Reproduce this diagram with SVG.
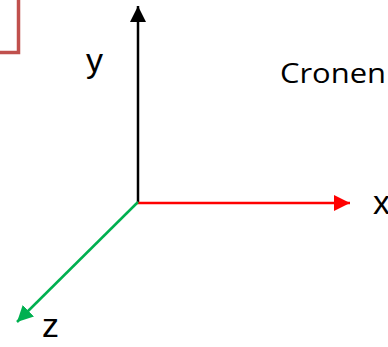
<svg xmlns="http://www.w3.org/2000/svg" width="388" height="347" viewBox="0 0 388 347">
<style>
.lbl{font-family:"Liberation Sans","Open Sans",sans-serif;fill:#000}
.axis{stroke-width:2.5;fill:none}
</style>
<defs>
<marker id="ak" markerUnits="userSpaceOnUse" viewBox="0 0 16 16" refX="16" refY="8" markerWidth="16" markerHeight="16" orient="auto"><path d="M0,0 L16,8 L0,16 z" fill="#000"/></marker>
<marker id="ar" markerUnits="userSpaceOnUse" viewBox="0 0 16 16" refX="16" refY="8" markerWidth="16" markerHeight="16" orient="auto"><path d="M0,0 L16,8 L0,16 z" fill="#FF0000"/></marker>
<marker id="ag" markerUnits="userSpaceOnUse" viewBox="0 0 16 16" refX="16" refY="8" markerWidth="16" markerHeight="16" orient="auto"><path d="M0,0 L16,8 L0,16 z" fill="#00B050"/></marker>
</defs>
<g id="box"><rect x="-20" y="-20" width="38.5" height="72.5" fill="none" stroke="#C0504D" stroke-width="3.5"/></g>
<g id="connectors">
<line class="axis" x1="138" y1="203" x2="138" y2="6" stroke="#000" marker-end="url(#ak)"/>
<line class="axis" x1="137" y1="203" x2="350" y2="203" stroke="#FF0000" marker-end="url(#ar)"/>
<line class="axis" x1="138" y1="202" x2="17" y2="322" stroke="#00B050" marker-end="url(#ag)"/>
</g>
<g id="label-y"><text class="lbl" x="86" y="72" font-size="34">y</text></g>
<g id="label-x"><text class="lbl" x="373" y="214" font-size="34">x</text></g>
<g id="label-z"><text class="lbl" x="42" y="337" font-size="34">z</text></g>
<g id="label-cronen"><text x="280" y="83" font-size="27" font-family="'Open Sans','Liberation Sans',sans-serif" fill="#000" textLength="106" lengthAdjust="spacingAndGlyphs">Cronen</text></g>
</svg>
